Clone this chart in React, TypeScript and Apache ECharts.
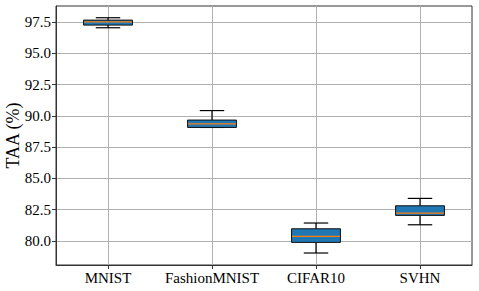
import React, { useEffect, useRef } from "react";
import * as echarts from "echarts";

const categories = ["MNIST", "FashionMNIST", "CIFAR10", "SVHN"];
// [lowerWhisker, Q1, median, Q3, upperWhisker]
const boxStats: number[][] = [
  [97.05, 97.26, 97.52, 97.66, 97.85],
  [89.07, 89.07, 89.36, 89.66, 90.42],
  [79.02, 79.87, 80.35, 80.96, 81.42],
  [81.28, 82.03, 82.22, 82.8, 83.39],
];
const yTicks = [80.0, 82.5, 85.0, 87.5, 90.0, 92.5, 95.0, 97.5];
const yMin = 78.06;
const yMax = 98.79;

export default function App() {
  const ref = useRef<HTMLDivElement>(null);
  useEffect(() => {
    const chart = echarts.init(ref.current!, null, { renderer: "svg" });
    const font = "Liberation Serif";
    const data = boxStats.map((s, i) => [i + 1, ...s]);
    chart.setOption({
      animation: false,
      backgroundColor: "#ffffff",
      textStyle: { fontFamily: font },
      grid: {
        left: 56,
        right: 7,
        top: 6,
        bottom: 26,
        containLabel: false,
        outerBoundsMode: "none",
        show: true,
        borderColor: "#333",
        borderWidth: 1,
        backgroundColor: "transparent",
      },
      xAxis: {
        type: "value",
        min: 0.5,
        max: 4.5,
        axisLine: { show: true, onZero: false, lineStyle: { color: "#333", width: 1 } },
        axisTick: { show: true, customValues: [1, 2, 3, 4], length: 4, lineStyle: { color: "#333" } },
        axisLabel: {
          customValues: [1, 2, 3, 4],
          formatter: (v: number) => categories[Math.round(v) - 1] ?? "",
          color: "#000",
          fontFamily: font,
          fontSize: 15,
          margin: 5,
        },
        splitLine: { show: true, lineStyle: { color: "#b0b0b0", width: 1 } },
      },
      yAxis: {
        type: "value",
        min: yMin,
        max: yMax,
        name: "TAA (%)",
        nameLocation: "middle",
        nameGap: 34,
        nameMoveOverlap: false,
        nameTextStyle: { fontFamily: font, fontSize: 18, color: "#000" },
        axisLine: { show: true, onZero: false, lineStyle: { color: "#333", width: 1 } },
        axisTick: { show: true, customValues: yTicks, length: 4, lineStyle: { color: "#333" } },
        axisLabel: {
          customValues: yTicks,
          formatter: (v: number) => v.toFixed(1),
          color: "#000",
          fontFamily: font,
          fontSize: 15,
          margin: 5,
        },
        splitLine: { show: true, lineStyle: { color: "#b0b0b0", width: 1 } },
      },
      series: [
        {
          type: "custom",
          data,
          encode: { x: 0, y: [1, 2, 3, 4, 5] },
          clip: false,
          renderItem: (params: any, api: any) => {
            const x = api.value(0);
            const lo = api.value(1);
            const q1 = api.value(2);
            const med = api.value(3);
            const q3 = api.value(4);
            const hi = api.value(5);
            const bw = api.size([0.47, 0])[0];
            const cw = bw / 2;
            const pLo = api.coord([x, lo]);
            const pQ1 = api.coord([x, q1]);
            const pMed = api.coord([x, med]);
            const pQ3 = api.coord([x, q3]);
            const pHi = api.coord([x, hi]);
            const cx = pLo[0];
            const stroke = { stroke: "#000", lineWidth: 1.2, fill: null };
            return {
              type: "group",
              children: [
                { type: "line", shape: { x1: cx, y1: pQ1[1], x2: cx, y2: pLo[1] }, style: stroke },
                { type: "line", shape: { x1: cx, y1: pQ3[1], x2: cx, y2: pHi[1] }, style: stroke },
                { type: "line", shape: { x1: cx - cw / 2, y1: pLo[1], x2: cx + cw / 2, y2: pLo[1] }, style: stroke },
                { type: "line", shape: { x1: cx - cw / 2, y1: pHi[1], x2: cx + cw / 2, y2: pHi[1] }, style: stroke },
                {
                  type: "rect",
                  shape: { x: cx - bw / 2, y: pQ3[1], width: bw, height: pQ1[1] - pQ3[1] },
                  style: { fill: "#1f77b4", stroke: "#111", lineWidth: 1 },
                },
                {
                  type: "line",
                  shape: { x1: cx - bw / 2 + 0.5, y1: pMed[1], x2: cx + bw / 2 - 0.5, y2: pMed[1] },
                  style: { stroke: "#ff7f0e", lineWidth: 1.2 },
                },
              ],
            };
          },
        },
      ],
    });
    return () => chart.dispose();
  }, []);
  return (
    <div
      ref={ref}
      style={{ position: "fixed", left: 0, top: 0, width: 479, height: 291, background: "#fff" }}
    />
  );
}
